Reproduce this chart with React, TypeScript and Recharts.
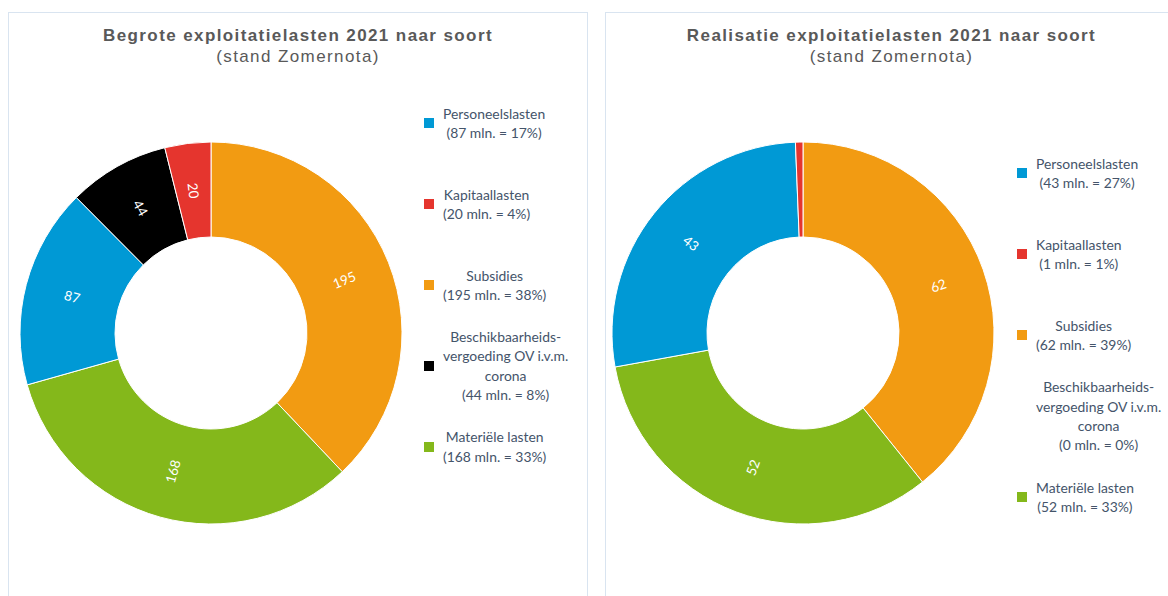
import { Cell, Legend, Pie, PieChart } from "recharts";

// legend order
const categories = [
  "Personeelslasten",
  "Kapitaallasten",
  "Subsidies",
  "Beschikbaarheids-vergoeding OV i.v.m. corona",
  "Materiële lasten",
];
const categoryLines = [
  ["Personeelslasten"],
  ["Kapitaallasten"],
  ["Subsidies"],
  ["Beschikbaarheids-", "vergoeding OV i.v.m.", "corona"],
  ["Materiële lasten"],
];
const colors = ["#0099d5", "#e5352e", "#f29b12", "#000000", "#84b81b"];

const budgetValues = [87, 20, 195, 44, 168];
const budgetPercents = [17, 4, 38, 8, 33];
const actualValues = [43, 1, 62, 0, 52];
const actualPercents = [27, 1, 39, 0, 33];

// slices clockwise from 12 o'clock
const sliceOrder = [2, 4, 0, 3, 1];

const RAD = Math.PI / 180;
const legendColor = "#44546a";
const titleColor = "#595959";

function renderSliceLabel(props: any) {
  const { cx, cy, midAngle, innerRadius, outerRadius, value } = props;
  if (value < 5) return null;
  const r = (innerRadius + outerRadius) / 2;
  const x = cx + r * Math.cos(-midAngle * RAD);
  const y = cy + r * Math.sin(-midAngle * RAD);
  const a = ((((midAngle % 360) + 540) % 360) - 180);
  const rot = a > 90 || a < -90 ? 180 - a : -a;
  return (
    <text
      x={x}
      y={y}
      fill="#fff"
      textAnchor="middle"
      dominantBaseline="central"
      transform={`rotate(${rot} ${x} ${y})`}
      fontSize={13.5}
      fontFamily="Lato, sans-serif"
    >
      {value}
    </text>
  );
}

interface DonutPanelProps {
  left: number;
  width: number;
  title: string;
  values: number[];
  percents: number[];
  cx: number;
  cy: number;
  legendLeft: number;
  legendTop: number;
  legendStep: number;
}

function DonutPanel({
  left,
  width,
  title,
  values,
  percents,
  cx,
  cy,
  legendLeft,
  legendTop,
  legendStep,
}: DonutPanelProps) {
  const data = sliceOrder.map((i) => ({
    name: categories[i],
    value: values[i],
    color: colors[i],
  }));

  const renderLegend = () => (
    <div style={{ position: "relative", width: 160, height: legendStep * 5 }}>
      {categories.map((_, i) => (
        <div
          key={`leg-${i}`}
          style={{
            position: "absolute",
            left: 0,
            top: i * legendStep,
            height: legendStep,
            display: "flex",
            alignItems: "center",
          }}
        >
          <span
            style={{
              width: 10,
              height: 10,
              background: colors[i],
              marginRight: 9,
              visibility: values[i] > 0 ? "visible" : "hidden",
              flex: "none",
            }}
          />
          <div
            style={{
              display: "inline-block",
              textAlign: "center",
              fontFamily: "Lato, sans-serif",
              fontSize: 13.9,
              lineHeight: "19.3px",
              color: legendColor,
              whiteSpace: "nowrap",
            }}
          >
            {categoryLines[i].map((line, j) => (
              <div key={j}>{line}</div>
            ))}
            <div>{`(${values[i]} mln. = ${percents[i]}%)`}</div>
          </div>
        </div>
      ))}
    </div>
  );

  return (
    <div
      style={{
        position: "absolute",
        left,
        top: 12,
        width,
        height: 600,
        border: "1px solid #d9e4f0",
        boxSizing: "border-box",
        background: "#fff",
      }}
    >
      <div
        style={{
          position: "absolute",
          left: 0,
          top: 12,
          width: "100%",
          textAlign: "center",
          fontFamily: "'Liberation Sans', Arial, sans-serif",
          fontSize: 17,
          lineHeight: "21px",
          letterSpacing: 1.4,
          color: titleColor,
        }}
      >
        <div style={{ fontWeight: "bold" }}>{title}</div>
        <div>(stand Zomernota)</div>
      </div>
      <div style={{ position: "absolute", left: 0, top: 0 }}>
        <PieChart
          width={width - 2}
          height={583}
          margin={{ top: 0, right: 0, bottom: 0, left: 0 }}
        >
          <Pie
            data={data}
            dataKey="value"
            cx={cx}
            cy={cy}
            innerRadius={96}
            outerRadius={191}
            startAngle={90}
            endAngle={-270}
            stroke="#fff"
            strokeWidth={1}
            label={renderSliceLabel}
            labelLine={false}
            isAnimationActive={false}
          >
            {data.map((entry, index) => (
              <Cell key={`cell-${index}`} fill={entry.color} />
            ))}
          </Pie>
          <Legend
            content={renderLegend}
            wrapperStyle={{ left: legendLeft, top: legendTop, width: 160 }}
          />
        </PieChart>
      </div>
    </div>
  );
}

export default function App() {
  return (
    <div
      style={{
        position: "relative",
        width: 1168,
        height: 596,
        overflow: "hidden",
        background: "#fff",
      }}
    >
      <style>{`body{margin:0}`}</style>
      <DonutPanel
        left={8}
        width={580}
        title="Begrote exploitatielasten 2021 naar soort"
        values={budgetValues}
        percents={budgetPercents}
        cx={202}
        cy={320}
        legendLeft={415}
        legendTop={70}
        legendStep={80.8}
      />
      <DonutPanel
        left={605}
        width={573}
        title="Realisatie exploitatielasten 2021 naar soort"
        values={actualValues}
        percents={actualPercents}
        cx={197}
        cy={320}
        legendLeft={411}
        legendTop={119.5}
        legendStep={81}
      />
    </div>
  );
}
